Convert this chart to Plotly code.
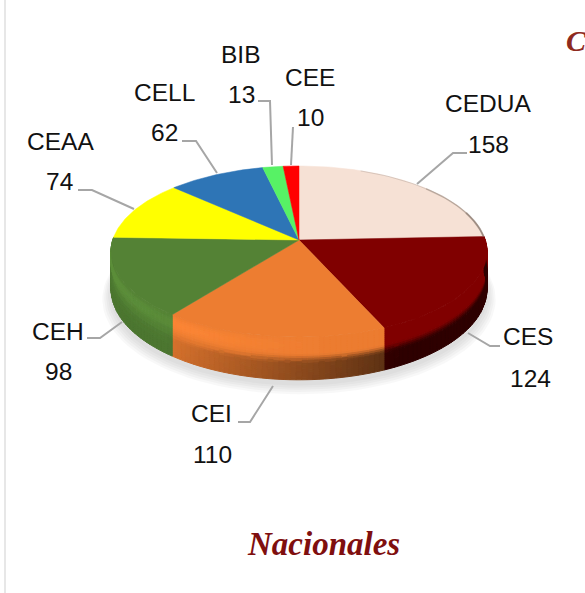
import math
import plotly.graph_objects as go

# ---- data -------------------------------------------------------------
categories = ["CEDUA", "CES", "CEI", "CEH", "CEAA", "CELL", "BIB", "CEE"]
values = [158, 124, 110, 98, 74, 62, 13, 10]

# ---- styling / layout (pixel coordinates of the axes) -------------------
colors = ["#F6E1D5", "#800000", "#ED7D31", "#548235", "#FFFF00", "#2E75B6", "#57F265", "#FF0000"]
name_pos = [(488, 103), (528, 336), (211, 413), (58, 331), (60, 141), (164, 92), (241, 54), (310, 77)]
value_pos = [(488, 144), (530, 378), (212, 454), (58, 371), (59, 181), (164, 132), (241, 94), (310, 117)]
leaders = [
    [(417, 184), (453, 153), (467, 153)],
    [(468, 333), (490, 346), (500, 346)],
    [(273, 386), (250, 422), (238, 422)],
    [(122, 322), (100, 338), (87, 338)],
    [(134, 209), (92, 190), (78, 190)],
    [(217, 173), (196, 141), (182, 141)],
    [(272, 165), (270, 101), (258, 101)],
    [(291, 165), (293, 127)],
]
CX, CY, RX, RY, K, DEPTH = 299.0, 240.0, 186.3, 84.0, 0.1345, 37.0
LABEL_FONT = "Liberation Sans"
SERIF = "Liberation Serif"


def project(deg, scale=1.0):
    a = math.radians(deg)
    u, v = math.sin(a) * scale, math.cos(a) * scale
    w = 1 + K * v
    return CX + RX * u / w, CY - RY * v / w, w


def hex_rgb(h):
    return tuple(int(h[i:i + 2], 16) for i in (1, 3, 5))


def side_shade(t, u):
    lower = max(0.36, min(0.92, 0.60 - 0.50 * u))
    if t < 0.40:
        glow = max(0.0, 0.1 - u) / 1.1
        return 1.0 + 0.10 * glow * math.sin(math.pi * t / 0.40)
    if t < 0.62:
        f = (t - 0.40) / 0.22
        f = f * f * (3 - 2 * f)
        return 1.0 + (lower - 1.0) * f
    return lower * (1 - 0.05 * (t - 0.62))


def shaded(rgb, s):
    return tuple(max(0, min(255, int(round(c * s / 2) * 2))) for c in rgb)


total = sum(values)
bounds = [0.0]
for val in values:
    bounds.append(bounds[-1] + val / total * 360.0)

fig = go.Figure()

# soft shadow under the disc
for scale, extra in [(1.045, 9), (1.035, 8), (1.025, 7), (1.015, 6), (1.005, 5)]:
    xs, ys = [], []
    for d in range(0, 361, 3):
        x, y, w = project(d, scale)
        xs.append(x)
        ys.append(y + DEPTH / w + extra)
    fig.add_trace(go.Scatter(x=xs, y=ys, mode="lines", fill="toself", line=dict(width=0),
                             fillcolor="rgba(120,120,120,0.055)", hoverinfo="skip", showlegend=False))

# side wall, bucketed by quantised colour
BANDS = 22
buckets = {}
for i, col in enumerate(colors):
    rgb = hex_rgb(col)
    a0, a1 = bounds[i], bounds[i + 1]
    steps = max(1, int((a1 - a0) / 1.5))
    for s in range(steps):
        d0 = a0 + (a1 - a0) * s / steps
        d1 = a0 + (a1 - a0) * (s + 1) / steps
        if math.cos(math.radians((d0 + d1) / 2)) > 0.035:
            continue
        u = math.sin(math.radians((d0 + d1) / 2))
        x0, y0, w0 = project(d0)
        x1, y1, w1 = project(d1)
        for b in range(BANDS):
            t0, t1 = b / BANDS, (b + 1) / BANDS
            key = shaded(rgb, side_shade((t0 + t1) / 2, u))
            poly = buckets.setdefault(key, ([], []))
            poly[0].extend([x0, x1, x1, x0, x0, None])
            poly[1].extend([y0 + DEPTH * t0 / w0, y1 + DEPTH * t0 / w1,
                            y1 + DEPTH * t1 / w1, y0 + DEPTH * t1 / w0,
                            y0 + DEPTH * t0 / w0, None])
for key, (xs, ys) in buckets.items():
    c = "rgb(%d,%d,%d)" % key
    fig.add_trace(go.Scatter(x=xs, y=ys, mode="lines", fill="toself", line=dict(width=1, color=c),
                             fillcolor=c, hoverinfo="skip", showlegend=False))

# top face
for i, col in enumerate(colors):
    a0, a1 = bounds[i], bounds[i + 1]
    n = max(2, int(a1 - a0))
    xs, ys = [CX], [CY]
    for s in range(n + 1):
        x, y, _ = project(a0 + (a1 - a0) * s / n)
        xs.append(x)
        ys.append(y)
    xs.append(CX)
    ys.append(CY)
    fig.add_trace(go.Scatter(x=xs, y=ys, mode="lines", fill="toself", name=categories[i],
                             line=dict(width=0.5, color=col), fillcolor=col,
                             hoverinfo="name", showlegend=False))

# faint bevel along the pale slice's rim
for lo_frac, width, alpha in [(0.25, 1.0, 0.25), (0.55, 1.5, 0.35), (0.8, 2.0, 0.45)]:
    n = 30
    a0 = bounds[1] * lo_frac
    xs, ys = [], []
    for s in range(n + 1):
        x, y, _ = project(a0 + (bounds[1] - a0) * s / n, 0.997)
        xs.append(x)
        ys.append(y)
    fig.add_trace(go.Scatter(x=xs, y=ys, mode="lines", line=dict(color="rgba(120,105,95,%.2f)" % alpha, width=width),
                             hoverinfo="skip", showlegend=False))

# leader lines
for pts in leaders:
    fig.add_trace(go.Scatter(x=[p[0] for p in pts], y=[p[1] for p in pts], mode="lines",
                             line=dict(color="#A6A6A6", width=2), hoverinfo="skip", showlegend=False))

# labels
annotations = []
for name, val, np_, vp in zip(categories, values, name_pos, value_pos):
    annotations.append(dict(x=np_[0], y=np_[1], text=name, showarrow=False,
                            font=dict(family=LABEL_FONT, size=24.5, color="#111111")))
    annotations.append(dict(x=vp[0], y=vp[1], text=str(val), showarrow=False,
                            font=dict(family=LABEL_FONT, size=24.5, color="#111111")))
annotations.append(dict(x=323, y=544, text="<b><i>Nacionales</i></b>", showarrow=False,
                        font=dict(family=SERIF, size=33, color="#7F0F0F")))
annotations.append(dict(x=564, y=40, xanchor="left", text="<b><i>C</i></b>", showarrow=False,
                        font=dict(family=SERIF, size=30, color="#8E2A1E")))

fig.update_layout(
    width=585, height=593, margin=dict(l=0, r=0, t=0, b=0),
    paper_bgcolor="white", plot_bgcolor="white", showlegend=False,
    xaxis=dict(range=[0, 585], visible=False, fixedrange=True),
    yaxis=dict(range=[593, 0], visible=False, fixedrange=True),
    annotations=annotations,
    shapes=[dict(type="line", xref="x", yref="y", x0=5, x1=5, y0=0, y1=593,
                 line=dict(color="#CFCFCF", width=1))],
)
fig.write_html("out.html", config=dict(displayModeBar=False),
               post_script="document.body.style.margin='0';document.body.style.overflow='hidden';")
